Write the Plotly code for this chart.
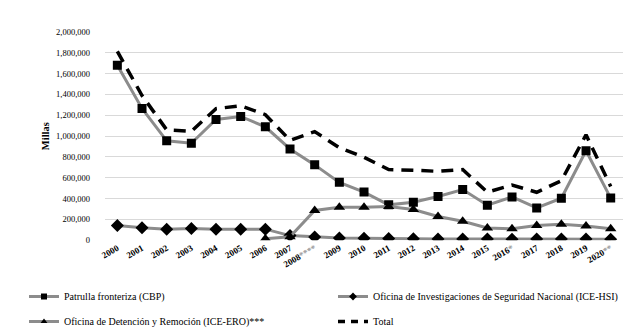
import plotly.graph_objects as go

years = ["2000", "2001", "2002", "2003", "2004", "2005", "2006", "2007", "2008****",
         "2009", "2010", "2011", "2012", "2013", "2014", "2015", "2016*", "2017",
         "2018", "2019", "2020**"]
tick_labels = ["2000", "2001", "2002", "2003", "2004", "2005", "2006", "2007",
               "2008<span style='color:#999999'>****</span>",
               "2009", "2010", "2011", "2012", "2013", "2014", "2015",
               "2016<span style='color:#999999'>*</span>", "2017", "2018", "2019",
               "2020<span style='color:#999999'>**</span>"]

cbp = [1680000, 1266000, 955000, 931000, 1160000, 1189000, 1089000, 877000, 724000,
       556000, 463000, 340000, 365000, 421000, 487000, 337000, 416000, 311000,
       404000, 860000, 405000]
hsi = [143000, 121000, 107000, 113000, 107000, 107000, 107000, 45000, 32000,
       22000, 20000, 16000, 15000, 12000, 13000, 12000, 9000, 12000, 13000, 12000, 11000]
ero = [None, None, None, None, None, None, 15000, 33000, 287000,
       316000, 318000, 325000, 296000, 229000, 182000, 118000, 111000, 143000,
       153000, 137000, 111000]
total = [1814000, 1390000, 1060000, 1046000, 1264000, 1291000, 1206000, 960000, 1043000,
         889000, 797000, 679000, 672000, 662000, 679000, 462000, 530000, 461000,
         572000, 1013000, 516000]

names = ["Patrulla fronteriza (CBP)",
         "Oficina de Investigaciones de Seguridad Nacional (ICE-HSI)",
         "Oficina de Detención y Remoción (ICE-ERO)***",
         "Total"]

serif = "Liberation Serif"
gray = "#8c8c8c"

fig = go.Figure()
series = [(cbp, "square", 9), (hsi, "diamond", 10), (ero, "triangle-up", 10)]
for (vals, sym, sz), nm in zip(series, names[:3]):
    fig.add_trace(go.Scatter(x=years, y=vals, name=nm, mode="lines+markers",
                             showlegend=False,
                             line=dict(color=gray, width=3),
                             marker=dict(symbol=sym, size=sz, color="black")))
fig.add_trace(go.Scatter(x=years, y=total, name=names[3], mode="lines",
                         showlegend=False,
                         line=dict(color="black", width=3.5, dash="12px,8px")))

legend_of = ["legend", "legend2", "legend", "legend2"]
for (vals, sym, sz), nm, lg in zip(series, names[:3], legend_of[:3]):
    fig.add_trace(go.Scatter(x=[None], y=[None], name=nm, mode="lines+markers",
                             showlegend=True, legend=lg, legendgroup=nm,
                             line=dict(color=gray, width=3),
                             marker=dict(symbol=sym, size=6, color="black")))
fig.add_trace(go.Scatter(x=[None], y=[None], name=names[3], mode="lines",
                         showlegend=True, legend="legend2", legendgroup=names[3],
                         line=dict(color="black", width=3.5, dash="7px,6px")))

leg_common = dict(orientation="v", yanchor="top", xanchor="left", tracegroupgap=6,
                  itemwidth=30, bgcolor="rgba(0,0,0,0)",
                  font=dict(family=serif, size=10, color="black"))
fig.update_layout(
    width=638, height=329,
    margin=dict(l=10, r=2, t=10, b=10),
    paper_bgcolor="white", plot_bgcolor="white",
    font=dict(family=serif, size=9, color="black"),
    showlegend=True,
    legend=dict(x=0.0096, y=0.1456, **leg_common),
    legend2=dict(x=0.5032, y=0.1456, **leg_common),
)
fig.update_xaxes(type="category", tickmode="array", tickvals=years, ticktext=tick_labels,
                 range=[-0.5, 20.5], autorange=False, domain=[0.1390, 0.9665],
                 tickangle=-30, automargin=False,
                 tickfont=dict(family=serif, size=9, color="black", weight="bold"),
                 showgrid=False, showline=False, ticks="", zeroline=False)
fig.update_yaxes(range=[0, 2000000], tickmode="linear", tick0=0, dtick=200000,
                 domain=[0.2783, 0.9547],
                 tickformat=",", showgrid=True, gridcolor="#d9d9d9", gridwidth=1,
                 zeroline=False, showline=False, ticks="", automargin=False,
                 ticklabelstandoff=14,
                 tickfont=dict(family=serif, size=8.5, color="black"),
                 title=dict(text="<b>Millas</b>", font=dict(family=serif, size=10.5, color="black"),
                            standoff=4))

fig.write_html("out.html")
